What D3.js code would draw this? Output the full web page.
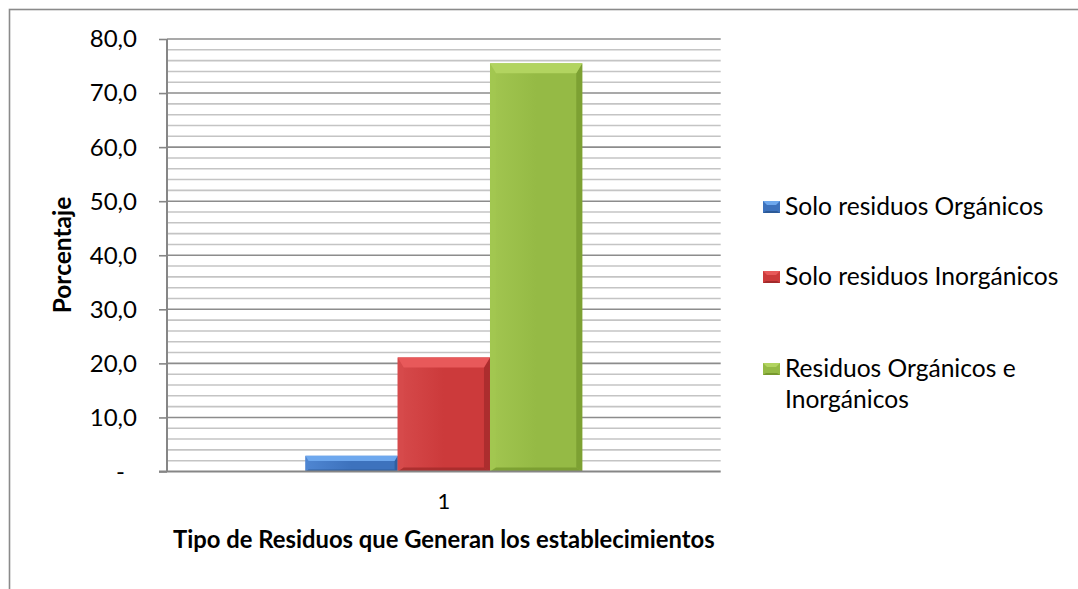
<!DOCTYPE html>
<html>
<head>
<meta charset="utf-8">
<script src="https://cdn.jsdelivr.net/npm/d3@7/dist/d3.min.js"></script>
<style>
  html, body { margin: 0; padding: 0; background: #fff; }
  svg { display: block; }
  text { font-family: Lato, "Open Sans", "Liberation Sans", sans-serif; fill: #000; }
</style>
</head>
<body>
<svg id="chart" width="1078" height="589"></svg>
<script>
// ---- data ----
const categories = ["1"];
const seriesNames = ["Solo residuos Orgánicos", "Solo residuos Inorgánicos", "Residuos Orgánicos e Inorgánicos"];
const seriesValues = [2.9, 21.1, 75.5];
const yTickValues = [0, 10, 20, 30, 40, 50, 60, 70, 80];
const yMinorStep = 2;
const yTitle = "Porcentaje";
const xTitle = "Tipo de Residuos que Generan los establecimientos";

// ---- styles ----
const palette = [
  { body: "#3d72bd", light: "#6ea8ee", side: "#4f86d2", dark: "#2c5a98" },
  { body: "#cc3a3b", light: "#e8595a", side: "#d64a4b", dark: "#a22a2b" },
  { body: "#95ba45", light: "#b2d460", side: "#a2c650", dark: "#76982d" }
];

const svg = d3.select("#chart");
const W = 1078, H = 589;
const plot = { left: 167, right: 720.7, top: 39, bottom: 471.5 };

// outer border (top & left visible, continues beyond the window)
svg.append("rect")
  .attr("x", 9.5).attr("y", 9.5)
  .attr("width", W + 20).attr("height", H + 20)
  .attr("fill", "#fff").attr("stroke", "#8a8a8a").attr("stroke-width", 1.6);

const y = d3.scaleLinear().domain([0, 80]).range([plot.bottom, plot.top]);
const x0 = d3.scaleBand().domain(categories).range([plot.left, plot.right])
  .paddingInner(0).paddingOuter(0.5);
const x1 = d3.scaleBand().domain(seriesNames).range([0, x0.bandwidth()]).padding(0);

// minor gridlines
const minorTicks = d3.range(0, 80 + 0.001, yMinorStep).filter(v => v % 10 !== 0);
svg.append("g").selectAll("line").data(minorTicks).join("line")
  .attr("x1", plot.left).attr("x2", plot.right)
  .attr("y1", d => y(d)).attr("y2", d => y(d))
  .attr("stroke", "#c4c4c4").attr("stroke-width", 1.6);

// major gridlines
svg.append("g").selectAll("line").data(yTickValues.filter(v => v !== 0)).join("line")
  .attr("x1", plot.left).attr("x2", plot.right)
  .attr("y1", d => y(d)).attr("y2", d => y(d))
  .attr("stroke", "#8c8c8c").attr("stroke-width", 1.6);

// y axis
const yAxis = d3.axisLeft(y).tickValues(yTickValues).tickSize(8).tickPadding(22)
  .tickFormat(d => d === 0 ? "-" : d3.format(".1f")(d).replace(".", ","));
const gy = svg.append("g").attr("transform", `translate(${plot.left},0)`).call(yAxis);
gy.select(".domain").attr("stroke", "#868686").attr("stroke-width", 2)
  .attr("d", `M0,${plot.top}V${plot.bottom}`);
gy.selectAll(".tick line").attr("stroke", "#868686").attr("stroke-width", 1.6);
gy.selectAll(".tick text")
  .style("font-family", "Lato, 'Open Sans', sans-serif")
  .attr("font-size", 24).attr("fill", "#000")
  .attr("dy", "0.33em")
  .attr("dx", d => d === 0 ? -12 : 0);

// bars
const bars = svg.append("g");
categories.forEach(cat => {
  seriesNames.forEach((s, i) => {
    const v = seriesValues[i];
    const bx = x0(cat) + x1(s);
    const bw = x1.bandwidth();
    const by = y(v);
    const bh = y(0) - y(v);
    const c = palette[i];
    const b = Math.min(10, bh / 3);
    const g = bars.append("g");
    const gid = "grad" + i;
    const grad = svg.append("defs").append("linearGradient").attr("id", gid)
      .attr("x1", 0).attr("x2", 1).attr("y1", 0).attr("y2", 0);
    grad.append("stop").attr("offset", 0).attr("stop-color", c.side);
    grad.append("stop").attr("offset", 0.5).attr("stop-color", c.body);
    grad.append("stop").attr("offset", 1).attr("stop-color", c.body);
    g.append("rect").attr("x", bx).attr("y", by).attr("width", bw).attr("height", bh)
      .attr("fill", `url(#${gid})`);
    g.append("path").attr("d", `M${bx},${by}L${bx + b * 0.6},${by + b}L${bx + b * 0.6},${by + bh - b * 0.4}L${bx},${by + bh}Z`)
      .attr("fill", c.side).attr("opacity", 0.9);
    g.append("path").attr("d", `M${bx + bw},${by}L${bx + bw - b * 0.6},${by + b}L${bx + bw - b * 0.6},${by + bh - b * 0.4}L${bx + bw},${by + bh}Z`)
      .attr("fill", c.dark).attr("opacity", 0.75);
    g.append("path").attr("d", `M${bx},${by + bh}L${bx + b * 0.6},${by + bh - b * 0.4}L${bx + bw - b * 0.6},${by + bh - b * 0.4}L${bx + bw},${by + bh}Z`)
      .attr("fill", c.dark).attr("opacity", 0.8);
    g.append("path").attr("d", `M${bx},${by}L${bx + bw},${by}L${bx + bw - b * 0.6},${by + b}L${bx + b * 0.6},${by + b}Z`)
      .attr("fill", c.light);
  });
});

// x axis
const xAxis = d3.axisBottom(x0).tickSize(0).tickPadding(37);
const gx = svg.append("g").attr("transform", `translate(0,${plot.bottom})`).call(xAxis);
gx.select(".domain").remove();
svg.append("line").attr("x1", plot.left - 8).attr("x2", plot.right)
  .attr("y1", plot.bottom).attr("y2", plot.bottom)
  .attr("stroke", "#868686").attr("stroke-width", 2);
gx.selectAll(".tick text")
  .style("font-family", "Lato, 'Open Sans', sans-serif")
  .attr("font-size", 22).attr("fill", "#000").attr("dy", 0);

// axis titles
svg.append("text").attr("transform", `translate(71,255) rotate(-90)`)
  .attr("text-anchor", "middle").attr("font-weight", "bold").attr("font-size", 24.5)
  .text(yTitle);
svg.append("text").attr("x", x0(categories[0]) + x0.bandwidth() / 2).attr("y", 548)
  .attr("text-anchor", "middle").attr("font-weight", "bold").attr("font-size", 23.8)
  .text(xTitle);

// legend
const legendX = 763, textX = 785;
const legendRows = [215, 285, 377];
const lineH = 31;
const leg = svg.append("g");
seriesNames.forEach((s, i) => {
  const c = palette[i];
  const baseY = legendRows[i];
  const t = leg.append("text").attr("x", textX).attr("y", baseY).attr("font-size", 24.6);
  const words = s.split(" ");
  let line = [], lineNo = 0;
  let tspan = t.append("tspan").attr("x", textX).attr("y", baseY);
  words.forEach(w => {
    line.push(w);
    tspan.text(line.join(" "));
    if (tspan.node().getComputedTextLength() > 288 && line.length > 1) {
      line.pop();
      tspan.text(line.join(" "));
      line = [w];
      lineNo++;
      tspan = t.append("tspan").attr("x", textX).attr("y", baseY + lineNo * lineH).text(w);
    }
  });
  const mg = leg.append("g");
  const mx = legendX, my = baseY - 14, mw = 17, mh = 12;
  mg.append("rect").attr("x", mx).attr("y", my).attr("width", mw).attr("height", mh).attr("fill", c.body);
  mg.append("path").attr("d", `M${mx},${my}L${mx + mw},${my}L${mx + mw - 4},${my + 4}L${mx + 4},${my + 4}Z`).attr("fill", c.light);
  mg.append("path").attr("d", `M${mx},${my + mh}L${mx + 3},${my + mh - 2}L${mx + mw - 3},${my + mh - 2}L${mx + mw},${my + mh}Z`).attr("fill", c.dark);
});
</script>
</body>
</html>
